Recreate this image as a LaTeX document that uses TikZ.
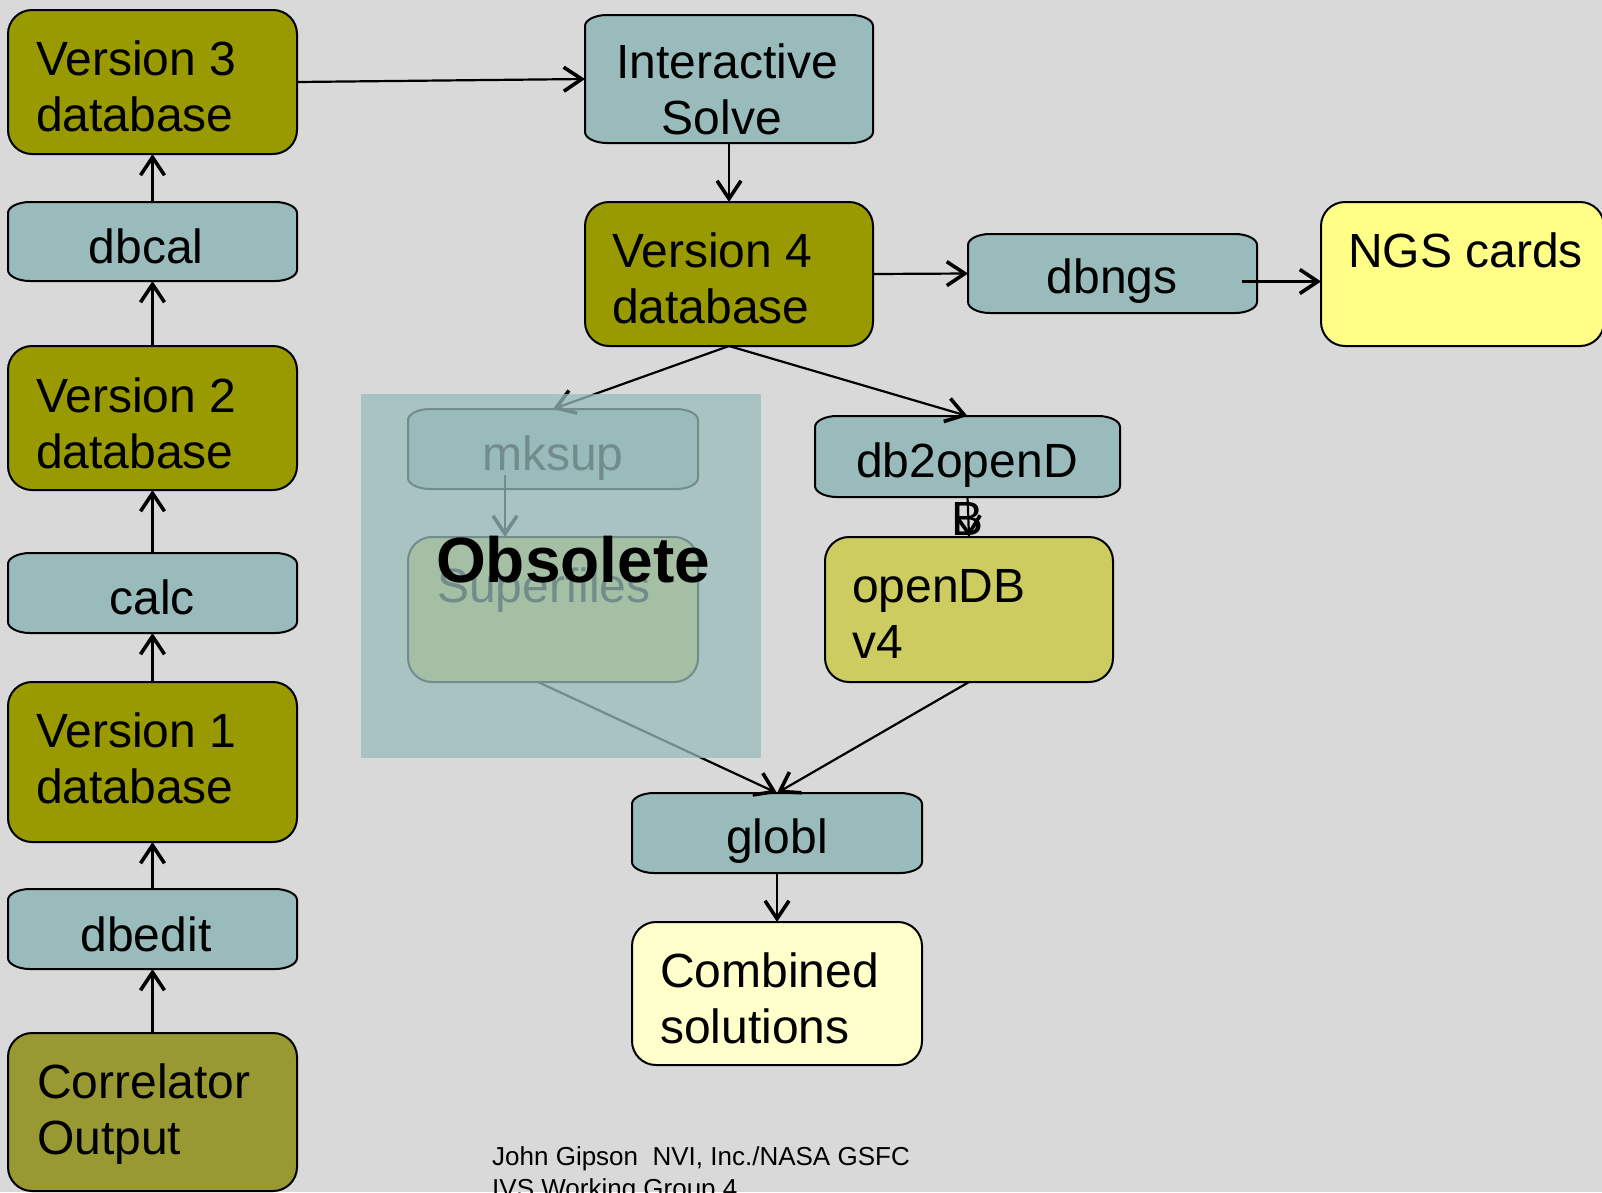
\documentclass[tikz,border=0pt]{standalone}
\usepackage{fontspec}
\setmainfont{Liberation Sans}
\usetikzlibrary{arrows.meta}

\definecolor{pagegray}{HTML}{D9D9D9}
\definecolor{olivedb}{HTML}{999900}
\definecolor{tealproc}{HTML}{99BBBB}
\definecolor{corrout}{HTML}{999933}
\definecolor{opendbfill}{HTML}{CCCC60}
\definecolor{ngsfill}{HTML}{FFFF88}
\definecolor{combfill}{HTML}{FFFFCC}

\pgfdeclarelayer{back}
\pgfdeclarelayer{front}
\pgfsetlayers{back,main,front}

% two stacked lines, baseline on the first one
\newcommand\twolines[3][l]{\begin{tabular}[t]{@{}#1@{}}#2\\#3\end{tabular}}

% process box: flat edges with wide elliptical corners, drawn behind the node
\newcommand\procshape[1]{%
  \begin{pgfonlayer}{back}
  \filldraw[fill=tealproc, line width=2pt, line join=round]
    ([xshift=22pt]#1.north west) -- ([xshift=-22pt]#1.north east)
    .. controls ([xshift=-10pt]#1.north east) and ([yshift=-5pt]#1.north east) .. ([yshift=-11pt]#1.north east)
    -- ([yshift=11pt]#1.south east)
    .. controls ([yshift=5pt]#1.south east) and ([xshift=-10pt]#1.south east) .. ([xshift=-22pt]#1.south east)
    -- ([xshift=22pt]#1.south west)
    .. controls ([xshift=10pt]#1.south west) and ([yshift=5pt]#1.south west) .. ([yshift=11pt]#1.south west)
    -- ([yshift=-11pt]#1.north west)
    .. controls ([yshift=-5pt]#1.north west) and ([xshift=10pt]#1.north west) .. ([xshift=22pt]#1.north west)
    -- cycle;
  \end{pgfonlayer}}

\tikzset{
  sz/.style 2 args={minimum width=#1pt, minimum height=#2pt, anchor=north west},
  rbox/.style={draw=black, line width=2pt, rounded corners=24pt, inner sep=0pt, outer sep=0pt},
  dbbox/.style={rbox, fill=olivedb},
  procbox/.style={draw=none, fill=none, inner sep=0pt, outer sep=0pt},
  lab/.style={inner sep=0pt, outer sep=0pt, font=\fontsize{48}{56}\selectfont},
  flow/.style={line width=2.2pt, -{Straight Barb[length=18pt,width=24pt,line width=3.6pt]}},
}

\begin{document}
\begin{tikzpicture}[x=1pt, y=-1pt]
\useasboundingbox (0,0) rectangle (1602,1192);
\begin{pgfonlayer}{back}
  \fill[pagegray] (0,0) rectangle (1602,1192);
\end{pgfonlayer}

% ---- left column: correlator output up to the version 3 database
\node[dbbox, sz={289}{144}] (v3) at (8,10) {};
\node[procbox, sz={289}{79}] (dbcal) at (8,202) {};
\procshape{dbcal}
\node[dbbox, sz={289}{144}] (v2) at (8,346) {};
\node[procbox, sz={289}{80}] (calc) at (8,553) {};
\procshape{calc}
\node[dbbox, sz={289}{160}] (v1) at (8,682) {};
\node[procbox, sz={289}{80}] (dbedit) at (8,889) {};
\procshape{dbedit}
\node[rbox, fill=corrout, sz={289}{158}] (corr) at (8,1033) {};

\node[lab, anchor=base west] (v3-t) at (36,75) {\twolines{Version 3}{database}};
\node[lab, anchor=base] (dbcal-t) at (146,263) {dbcal};
\node[lab, anchor=base west] (v2-t) at (36,412) {\twolines{Version 2}{database}};
\node[lab, anchor=base] (calc-t) at (152,614) {calc};
\node[lab, anchor=base west] (v1-t) at (36,747) {\twolines{Version 1}{database}};
\node[lab, anchor=base] (dbedit-t) at (146,951) {dbedit};
\node[lab, anchor=base west] (corr-t) at (37,1098) {\twolines{Correlator}{Output}};

% ---- solve branch
\node[procbox, sz={288}{128}] (isolve) at (585,15) {};
\procshape{isolve}
\node[dbbox, sz={288}{144}] (v4) at (585,202) {};
\node[procbox, sz={289}{79}] (dbngs) at (968,234) {};
\procshape{dbngs}
\node[rbox, fill=ngsfill, sz={283}{144}] (ngs) at (1321,202) {};

\node[lab, anchor=base] (isolve-t) at (727,78) {\twolines[c]{Interactive}{Solve\phantom{i}}};
\node[lab, anchor=base west] (v4-t) at (612,267) {\twolines{Version 4}{database}};
\node[lab, anchor=base] (dbngs-t) at (1112,293) {dbngs};
\node[lab, anchor=base west] (ngs-t) at (1348,267) {NGS cards};

% ---- superfile branch
\node[procbox, sz={290}{80}] (mksup) at (408,409) {};
\procshape{mksup}
\node[rbox, fill=opendbfill, sz={290}{145}] (super) at (408,537) {};
\node[lab, anchor=base] (mksup-t) at (553,470) {mksup};
\node[lab, anchor=base west] (super-t) at (437,602) {Superfiles};

% ---- openDB branch
\node[procbox, sz={305}{81}] (db2) at (815,416) {};
\procshape{db2}
\node[rbox, fill=opendbfill, sz={288}{145}] (opendb) at (825,537) {};
\node[lab, anchor=base] (db2-t) at (967,477) {db2openD};
\node[lab, anchor=base] (db2-b) at (967,535) {B};
\node[lab, anchor=base west] (opendb-t) at (852,602) {\twolines{openDB}{v4}};

% ---- global solution
\node[procbox, sz={290}{80}] (globl) at (632,793) {};
\procshape{globl}
\node[rbox, fill=combfill, sz={290}{143}] (comb) at (632,922) {};
\node[lab, anchor=base] (globl-t) at (777,853) {globl};
\node[lab, anchor=base west] (comb-t) at (660,987) {\twolines{Combined}{solutions}};

% ---- connectors
\draw[flow] (dbcal.north) -- (v3.south);
\draw[flow] (v2.north) -- (dbcal.south);
\draw[flow] (calc.north) -- (v2.south);
\draw[flow] (v1.north) -- (calc.south);
\draw[flow] (dbedit.north) -- (v1.south);
\draw[flow] (corr.north) -- (dbedit.south);
\draw[flow] (v3.east) -- (isolve.west);
\draw[flow] (isolve.south) -- (v4.north);
\draw[flow] (v4.east) -- (dbngs.west);
\draw[flow] ([xshift=-15pt,yshift=-8pt]dbngs.east) coordinate (ngs-out) -- (ngs-out -| ngs.west);
\draw[flow] (v4.south) -- (mksup.north);
\draw[flow] (v4.south) -- (db2.north);
\draw[flow, line width=1.4pt] ([xshift=-48pt,yshift=14pt]mksup.south) coordinate (mk-out) -- (mk-out |- super.north);
\draw[flow] (db2.south) -- (opendb.north);
\draw[flow] ([xshift=-15pt]super.south) -- (globl.north);
\draw[flow] (opendb.south) -- (globl.north);
\draw[flow] (globl.south) -- (comb.north);

% ---- obsolete part, veiled
\begin{pgfonlayer}{front}
  \fill[tealproc, opacity=0.75] (361,394) rectangle (761,758);
  \node[inner sep=0pt, anchor=base west, font=\bfseries\fontsize{64}{70}\selectfont] (obs) at (436,582) {Obsolete};
\end{pgfonlayer}

% ---- footer
\node[inner sep=0pt, anchor=base west, font=\fontsize{26}{32}\selectfont] (footer) at (492,1165)
  {\twolines{John Gipson\ \ NVI, Inc./NASA GSFC}{IVS Working Group 4}};
\end{tikzpicture}
\end{document}
